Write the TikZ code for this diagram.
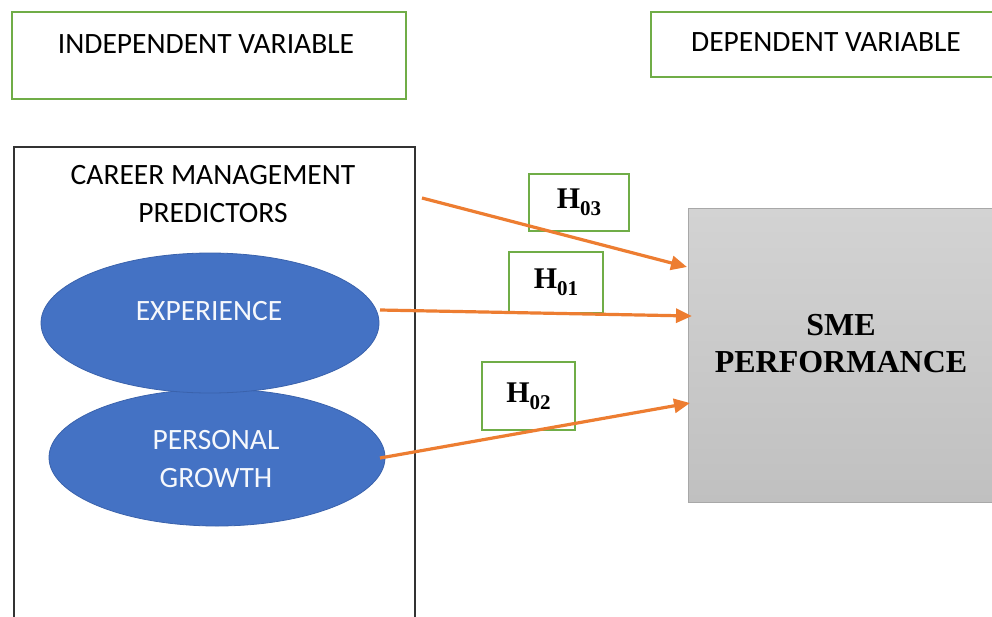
\documentclass[tikz,border=0pt]{standalone}
\usepackage{fontspec}
\setmainfont{Liberation Serif}
\newfontfamily\calfont{Carlito}
\usetikzlibrary{arrows.meta,shapes.geometric}
\definecolor{grn}{HTML}{70AD47}
\definecolor{blu}{HTML}{4472C4}
\definecolor{bluedge}{HTML}{3A62AC}
\definecolor{org}{HTML}{ED7D31}
\definecolor{frame}{HTML}{333333}
\definecolor{smetop}{HTML}{D3D3D3}
\definecolor{smebot}{HTML}{C0C0C0}
\definecolor{smeedge}{HTML}{A8A8A8}
\begin{document}
\begin{tikzpicture}[x=1pt,y=-1pt,
  varbox/.style={draw=grn, line width=1.8pt, fill=white, inner sep=0pt, anchor=north west},
  sanslabel/.style={font=\calfont\fontsize{29.5}{38}\selectfont, align=center, inner sep=0pt},
  ellabel/.style={sanslabel, text=white!95!blu},
  oval/.style={ellipse, fill=blu, draw=bluedge, line width=0.8pt, inner sep=0pt},
  hbox/.style={draw=grn, line width=1.8pt, fill=white, inner sep=0pt},
  hlabel/.style={font=\fontsize{30}{30}\selectfont\bfseries, inner sep=0pt},
  arr/.style={draw=org, line width=3.2pt, -{Triangle[length=16pt,width=14pt]}}
]
\useasboundingbox (0,0) rectangle (992,616);
\fill[white] (0,0) rectangle (992,616);

% top variable boxes
\node (indep) [varbox, minimum width=394pt, minimum height=87pt] at (11,11) {};
\node (indeptext) [sanslabel] at (206,44) {INDEPENDENT VARIABLE};
\node (dep) [varbox, minimum width=350pt, minimum height=65pt] at (650,11) {};
\node (deptext) [sanslabel] at (826,42) {DEPENDENT VARIABLE};

% predictor frame
\node (pred) [draw=frame, line width=1.8pt, anchor=north west, inner sep=0pt,
  minimum width=401pt, minimum height=490pt] at (13,146) {};
\node (predtext) [sanslabel] at (213,194) {CAREER MANAGEMENT\\PREDICTORS};

% ellipses
\node (pg) [oval, minimum width=336pt, minimum height=137pt] at (217,457.5) {};
\node (exp) [oval, minimum width=338pt, minimum height=140pt] at (210,323) {};
\node (exptext) [ellabel] at (209,311) {EXPERIENCE};
\node (pgtext) [ellabel] at (216,459) {PERSONAL\\GROWTH};

% SME box
\node (sme) [draw=smeedge, line width=1.4pt, top color=smetop, bottom color=smebot,
  anchor=north west, inner sep=0pt, minimum width=320pt, minimum height=294pt] at (688,208) {};
\node (smetext) [font=\fontsize{32}{37}\selectfont\bfseries, align=center, inner sep=0pt]
  at (841,344) {SME\\PERFORMANCE};

% hypothesis boxes
\node (h3) [hbox, minimum width=100pt, minimum height=57pt] at (579,202.5) {};
\node (h1) [hbox, minimum width=94pt, minimum height=61pt] at (556,282.5) {};
\node (h2) [hbox, minimum width=93pt, minimum height=68pt] at (528.5,396) {};
\node (h3t) [hlabel] at (h3) {H\raisebox{-0.22em}{\fontsize{21}{21}\selectfont 03}};
\node (h1t) [hlabel] at (h1) {H\raisebox{-0.22em}{\fontsize{21}{21}\selectfont 01}};
\node (h2t) [hlabel] at (h2) {H\raisebox{-0.22em}{\fontsize{21}{21}\selectfont 02}};

% arrow endpoints
\coordinate (a3s) at (422,198);
\coordinate (a3e) at (687,267);
\coordinate (a1s) at (380,310);
\coordinate (a1e) at (692,316);
\coordinate (a2s) at (380,458);
\coordinate (a2e) at (690,403);
\draw[arr] (a3s) -- (a3e);
\draw[arr] (a1s) -- (a1e);
\draw[arr] (a2s) -- (a2e);
\end{tikzpicture}
\end{document}
